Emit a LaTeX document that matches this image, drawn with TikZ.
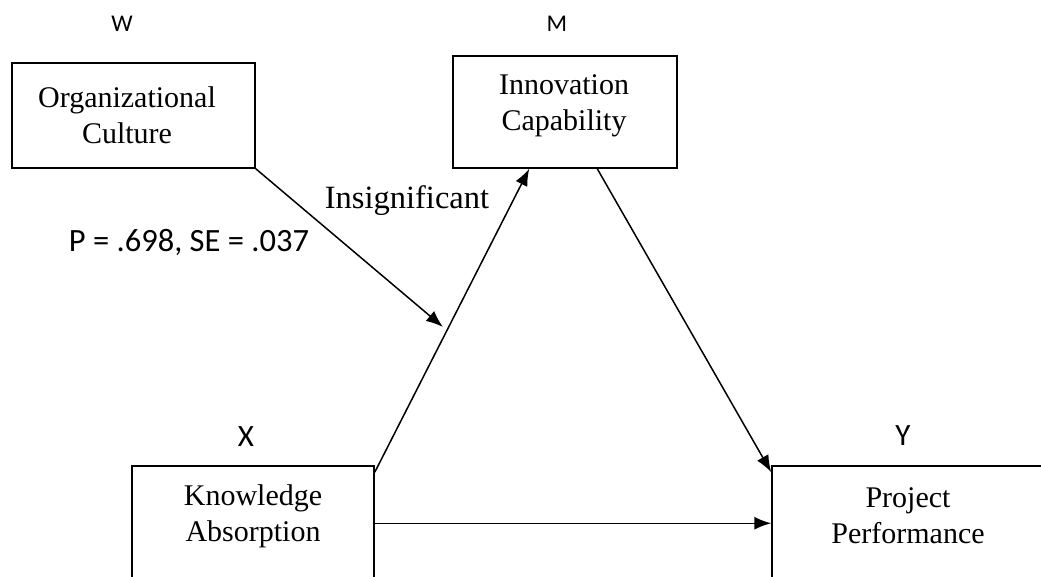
\documentclass[tikz,border=0pt]{standalone}
\usepackage{fontspec}
\setmainfont{Liberation Serif}
\newfontfamily\labfont{Carlito}
\usetikzlibrary{arrows.meta,calc}
\begin{document}
\begin{tikzpicture}[x=1pt,y=-1pt,
  box/.style={draw,line width=1.5pt,inner sep=0pt},
  boxtext/.style={font=\fontsize{30}{36}\selectfont,align=center,inner sep=0pt},
  biglbl/.style={font=\labfont\fontsize{31}{37}\selectfont,inner sep=0pt},
  smalllbl/.style={font=\labfont\fontsize{24}{29}\selectfont,inner sep=0pt},
  conn/.style={line width=1.5pt,-{Latex[length=17pt,width=13pt]}}]
\useasboundingbox (0,0) rectangle (1041,577);
\clip (0,0) rectangle (1041,577);
% boxes
\node[box,minimum width=243pt,minimum height=105pt] (OC) at (133.5,115.5) {};
\node[box,minimum width=224pt,minimum height=112pt] (IC) at (565,112) {};
\node[box,minimum width=242pt,minimum height=134pt] (KA) at (253,533) {};
\node[box,minimum width=272pt,minimum height=134pt] (PP) at (908,533) {};
% box texts
\node[boxtext] (OCt) at (127,115) {Organizational\\Culture};
\node[boxtext] (ICt) at (564,106) {Innovation\\Capability};
\node[boxtext] (KAt) at (253,516) {Knowledge\\Absorption};
\node[boxtext] (PPt) at (908,516) {Project\\Performance};
% variable labels
\node[smalllbl] (W) at (122,24) {W};
\node[smalllbl] (M) at (557,24) {M};
\node[biglbl] (X) at (246,437) {X};
\node[biglbl] (Y) at (903,436) {Y};
% annotations
\node[font=\fontsize{32.5}{38}\selectfont,inner sep=0pt] (ins) at (407,201) {Insignificant};
\node[font=\labfont\fontsize{32.5}{38}\selectfont,inner sep=0pt] (pse) at (189,242) {P = .698, SE = .037};
% connectors
\coordinate (mid) at (443,327);
\draw[conn] ($(KA.north east)+(0,7)$) -- ($(IC.south west)+(77,0)$);
\draw[conn] (OC.south east) -- (mid);
\draw[conn] ($(IC.south west)+(145,0)$) -- ($(PP.north west)+(0,7)$);
\draw[conn] ($(KA.north east)+(0,58)$) -- ($(PP.north west)+(0,58)$);
\end{tikzpicture}
\end{document}
